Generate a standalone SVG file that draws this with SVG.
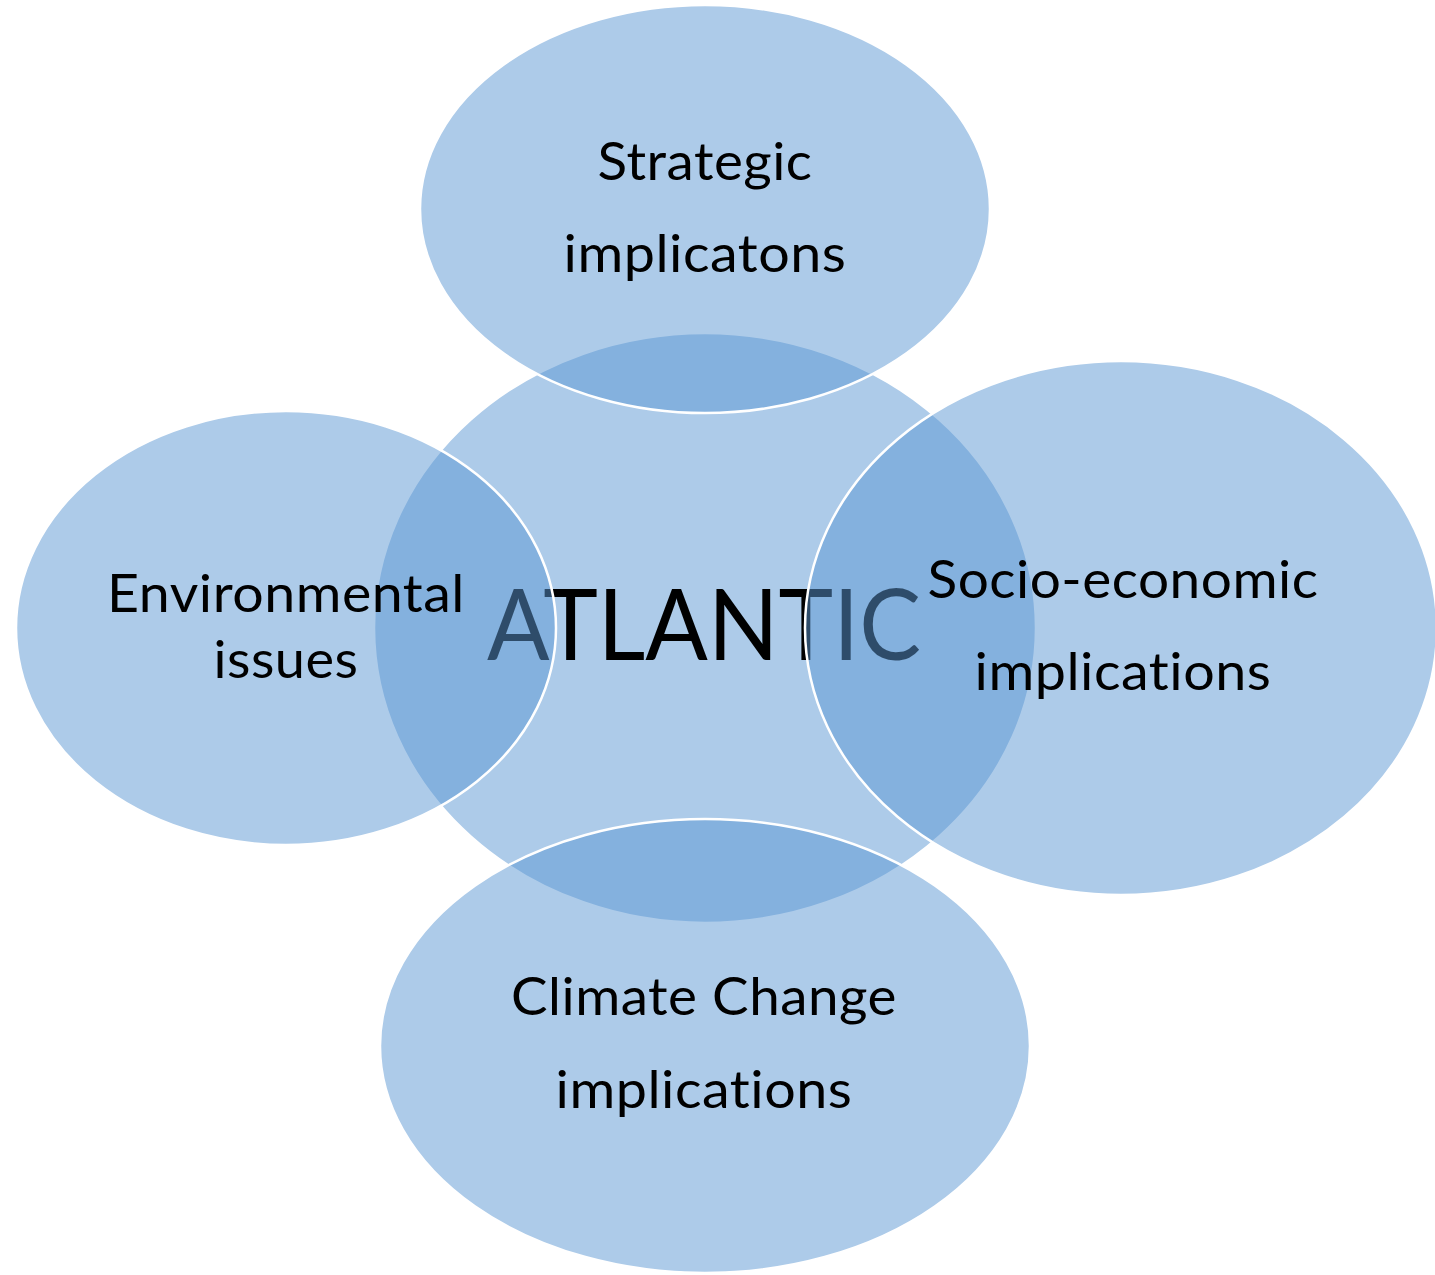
<svg xmlns="http://www.w3.org/2000/svg" width="1435" height="1275" viewBox="0 0 1435 1275">
<style>
.bub{fill:#5B97D3;fill-opacity:0.5;stroke:#FFFFFF;stroke-width:2.5}
.lbl{font-family:Lato,"Open Sans","Liberation Sans",sans-serif;font-size:53px;fill:#000000;text-anchor:middle;letter-spacing:0.5px;font-variant-ligatures:none;font-feature-settings:"liga" 0,"clig" 0,"dlig" 0}
.core{font-family:Lato,"Open Sans","Liberation Sans",sans-serif;font-size:99px;fill:#000000;text-anchor:middle;font-variant-ligatures:none}
</style>
<rect width="1435" height="1275" fill="#FFFFFF"/>
<g id="node-atlantic">
<ellipse class="bub" cx="705" cy="628" rx="331" ry="295"/>
<text class="core" x="704" y="660" textLength="434" lengthAdjust="spacingAndGlyphs">ATLANTIC</text>
</g>
<g id="node-strategic">
<ellipse class="bub" cx="705" cy="209" rx="285" ry="204"/>
</g>
<g id="node-socio">
<ellipse class="bub" cx="1121" cy="628" rx="316" ry="267"/>
</g>
<g id="node-climate">
<ellipse class="bub" cx="705" cy="1046" rx="325" ry="227"/>
</g>
<g id="node-environmental">
<ellipse class="bub" cx="286" cy="628" rx="270" ry="217"/>
</g>
<g id="labels">
<text class="lbl" x="705" y="180" textLength="215" lengthAdjust="spacingAndGlyphs">Strategic</text>
<text class="lbl" x="705" y="272" textLength="283" lengthAdjust="spacingAndGlyphs">implicatons</text>
<text class="lbl" x="286" y="612" textLength="358" lengthAdjust="spacingAndGlyphs">Environmental</text>
<text class="lbl" x="286" y="678" textLength="145" lengthAdjust="spacingAndGlyphs">issues</text>
<text class="lbl" x="1123" y="598" textLength="391" lengthAdjust="spacingAndGlyphs">Socio-economic</text>
<text class="lbl" x="1123" y="690" textLength="297" lengthAdjust="spacingAndGlyphs">implications</text>
<text class="lbl" x="704" y="1015" textLength="386" lengthAdjust="spacingAndGlyphs">Climate Change</text>
<text class="lbl" x="704" y="1108" textLength="297" lengthAdjust="spacingAndGlyphs">implications</text>
</g>
</svg>
